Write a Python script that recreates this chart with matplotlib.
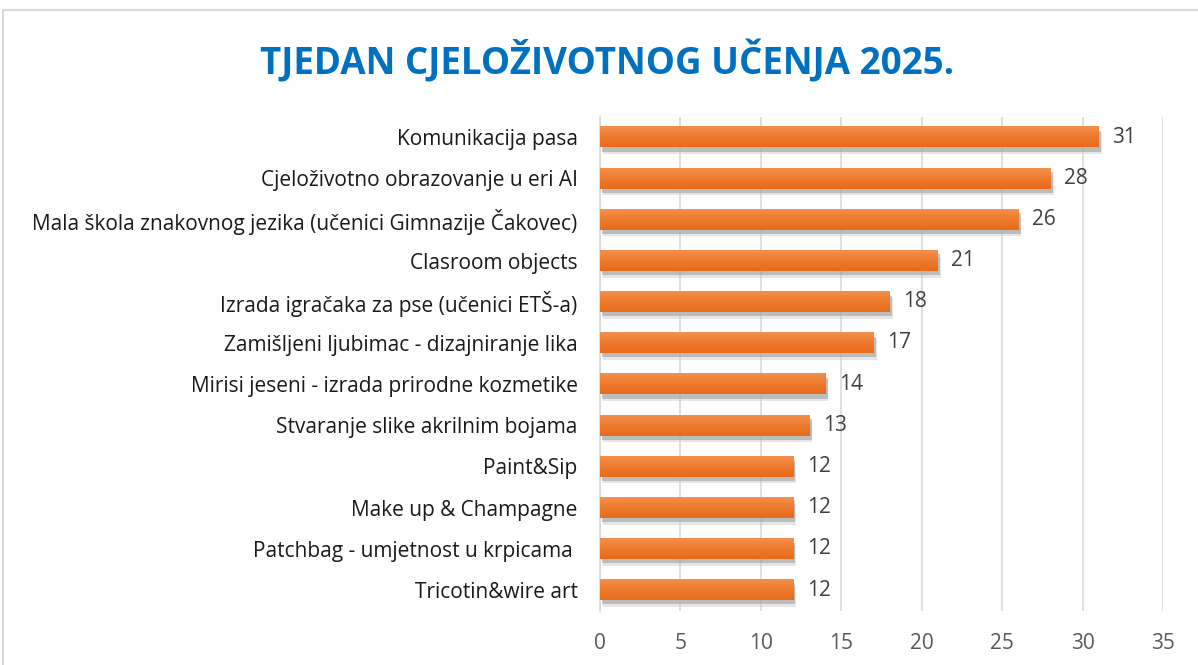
import matplotlib
matplotlib.use("Agg")
import numpy as np
import matplotlib.pyplot as plt
from matplotlib.patches import Rectangle

categories = [
    "Komunikacija pasa",
    "Cjeloživotno obrazovanje u eri AI",
    "Mala škola znakovnog jezika (učenici Gimnazije Čakovec)",
    "Clasroom objects",
    "Izrada igračaka za pse (učenici ETŠ-a)",
    "Zamišljeni ljubimac - dizajniranje lika",
    "Mirisi jeseni - izrada prirodne kozmetike",
    "Stvaranje slike akrilnim bojama",
    "Paint&Sip",
    "Make up & Champagne",
    "Patchbag - umjetnost u krpicama ",
    "Tricotin&wire art",
]
values = [31, 28, 26, 21, 18, 17, 14, 13, 12, 12, 12, 12]
xticks = [0, 5, 10, 15, 20, 25, 30, 35]
title = "TJEDAN CJELOŽIVOTNOG UČENJA 2025."

plt.rcParams["font.family"] = ["Open Sans", "DejaVu Sans"]

fig = plt.figure(figsize=(11.98, 6.65), dpi=100, facecolor="white")
# outer chart border
fig.patches.append(Rectangle((3 / 1198, -0.1), 1.2, 1 - 10 / 665 + 0.1,
                             transform=fig.transFigure, fill=False,
                             edgecolor="#d9d9d9", linewidth=1.5))

ax = fig.add_axes([0.5008, 0.0818, 0.47, 0.743])
n = len(categories)
ypos = np.arange(n)[::-1]
bar_h = 0.5

# vertical gradient for the bars
grad = np.linspace(0, 1, 64).reshape(-1, 1)
cmap = matplotlib.colors.LinearSegmentedColormap.from_list(
    "org", ["#f4904f", "#ed7a2b", "#e86a1c"])

for y, v in zip(ypos, values):
    # soft shadow
    ax.add_patch(Rectangle((0.1, y - bar_h / 2 - 0.1), v + 0.05, bar_h,
                           facecolor="#9a9a9a", alpha=0.55, edgecolor="none", zorder=2))
    ax.add_patch(Rectangle((0.2, y - bar_h / 2 - 0.16), v, bar_h,
                           facecolor="#cfcfcf", alpha=0.5, edgecolor="none", zorder=1.9))
    ax.imshow(grad, cmap=cmap, aspect="auto", zorder=3,
              extent=(0, v, y - bar_h / 2, y + bar_h / 2), origin="upper")
    ax.text(v + 0.85, y, str(v), va="center", ha="left", fontsize=15, color="#404040")

ax.set_xlim(0, 35)
ax.set_ylim(-0.5, n - 0.5)
ax.set_xticks(xticks)
ax.set_xticklabels([str(t) for t in xticks], fontsize=15, color="#595959")
ax.set_yticks(ypos)
ax.set_yticklabels(categories, fontsize=15, color="#1a1a1a")
ax.tick_params(axis="both", length=0)
ax.tick_params(axis="y", pad=16)
ax.tick_params(axis="x", pad=16)
ax.grid(axis="x", color="#d9d9d9", linewidth=1.2, zorder=0)
ax.set_axisbelow(True)
for s in ["top", "right", "bottom"]:
    ax.spines[s].set_visible(False)
ax.spines["left"].set_color("#d9d9d9")
ax.spines["left"].set_linewidth(1.2)

fig.text(607 / 1198, 1 - 62 / 665, title, ha="center", va="center",
         fontsize=26.5, fontweight="bold", color="#0070c0")

fig.savefig("out.png", dpi=100, facecolor="white")
